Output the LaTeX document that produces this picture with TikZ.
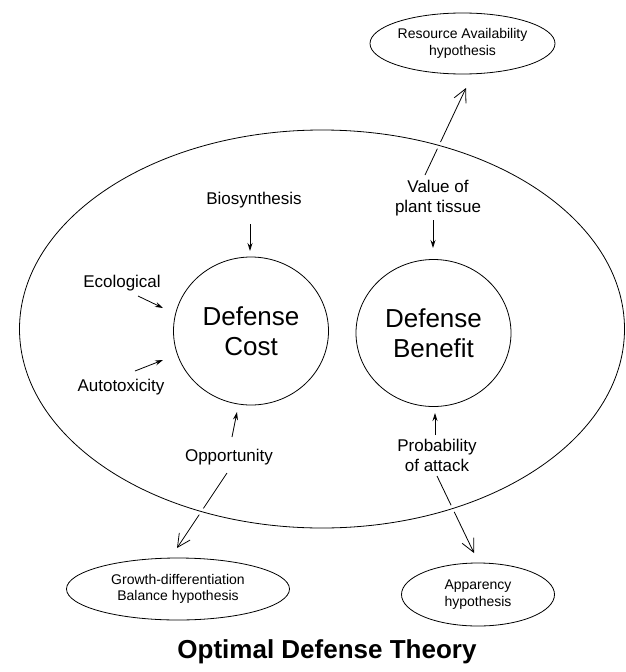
\documentclass[tikz,border=0pt]{standalone}
\usepackage{fontspec}
\setmainfont{Liberation Sans}
\usetikzlibrary{shapes.geometric,arrows.meta}
\begin{document}
\begin{tikzpicture}[x=1pt,y=-1pt,
  line width=0.8pt,
  lbl/.style={font=\fontsize{17}{20}\selectfont, align=center, inner sep=0pt},
  bigc/.style={draw, ellipse, inner sep=0pt, font=\fontsize{26}{30}\selectfont, align=center},
  hyp/.style={draw, ellipse, inner sep=0pt, font=\fontsize{14}{16.5}\selectfont, align=center},
  sarr/.style={-{Stealth[length=8pt,width=5pt]}},
  barr/.style={-{Straight Barb[length=13pt,width=13pt]}}]
\useasboundingbox (0,0) rectangle (626,672);
% circles
\node[bigc, minimum width=155, minimum height=148] (cost) at (251,331) {Defense\\Cost};
\node[bigc, minimum width=155, minimum height=147] (ben) at (433.5,333) {Defense\\Benefit};
% hypothesis ellipses
\node[hyp, minimum width=185, minimum height=61] (res) at (462.5,43.5) {Resource Availability\\hypothesis};
\node[hyp, minimum width=223, minimum height=62] (gro) at (178,589) {Growth-differentiation\\Balance hypothesis};
\node[hyp, minimum width=153, minimum height=63] (app) at (478,594.5) {Apparency\\hypothesis};
% labels
\node[lbl] (bio) at (254,200) {Biosynthesis};
\node[lbl] (eco) at (122,283) {Ecological};
\node[lbl] (auto) at (121,387) {Autotoxicity};
\node[lbl] (opp) at (229,457) {Opportunity};
\node[lbl] (val) at (438,198) {Value of\\plant tissue};
\node[lbl] (prob) at (437,455) {Probability\\of attack};
% title
\node[font=\bfseries\fontsize{26}{30}\selectfont] (title) at (327,652) {Optimal Defense Theory};
% arrow end points
\coordinate (bioS) at (250,224);  \coordinate (bioE) at (250,251);
\coordinate (ecoS) at (138,296);  \coordinate (ecoE) at (163,308);
\coordinate (autS) at (135,371);  \coordinate (autE) at (163,360);
\coordinate (oppS) at (232,437);  \coordinate (oppE) at (237,412);
\coordinate (oppD) at (227,473);  \coordinate (groT) at (177,548);
\coordinate (valS) at (433,220);  \coordinate (valE) at (433,248);
\coordinate (valU) at (425,175);  \coordinate (resT) at (466,88);
\coordinate (prbS) at (435,435);  \coordinate (prbE) at (435,413);
\coordinate (prbD) at (437,476);  \coordinate (appT) at (474,553);
% connectors
\draw[sarr] (bioS) -- (bioE);
\draw[sarr] (ecoS) -- (ecoE);
\draw[sarr] (autS) -- (autE);
\draw[sarr] (oppS) -- (oppE);
\draw[sarr] (valS) -- (valE);
\draw[sarr] (prbS) -- (prbE);
\draw[barr] (oppD) -- (groT);
\draw[barr] (valU) -- (resT);
\draw[barr] (prbD) -- (appT);
% outer ellipse drawn last, with a white halo that breaks the crossing arrows
\node[draw, ellipse, minimum width=605, minimum height=398, inner sep=0pt,
      preaction={draw=white, line width=7pt}] (outer) at (322,329) {};
\end{tikzpicture}
\end{document}
